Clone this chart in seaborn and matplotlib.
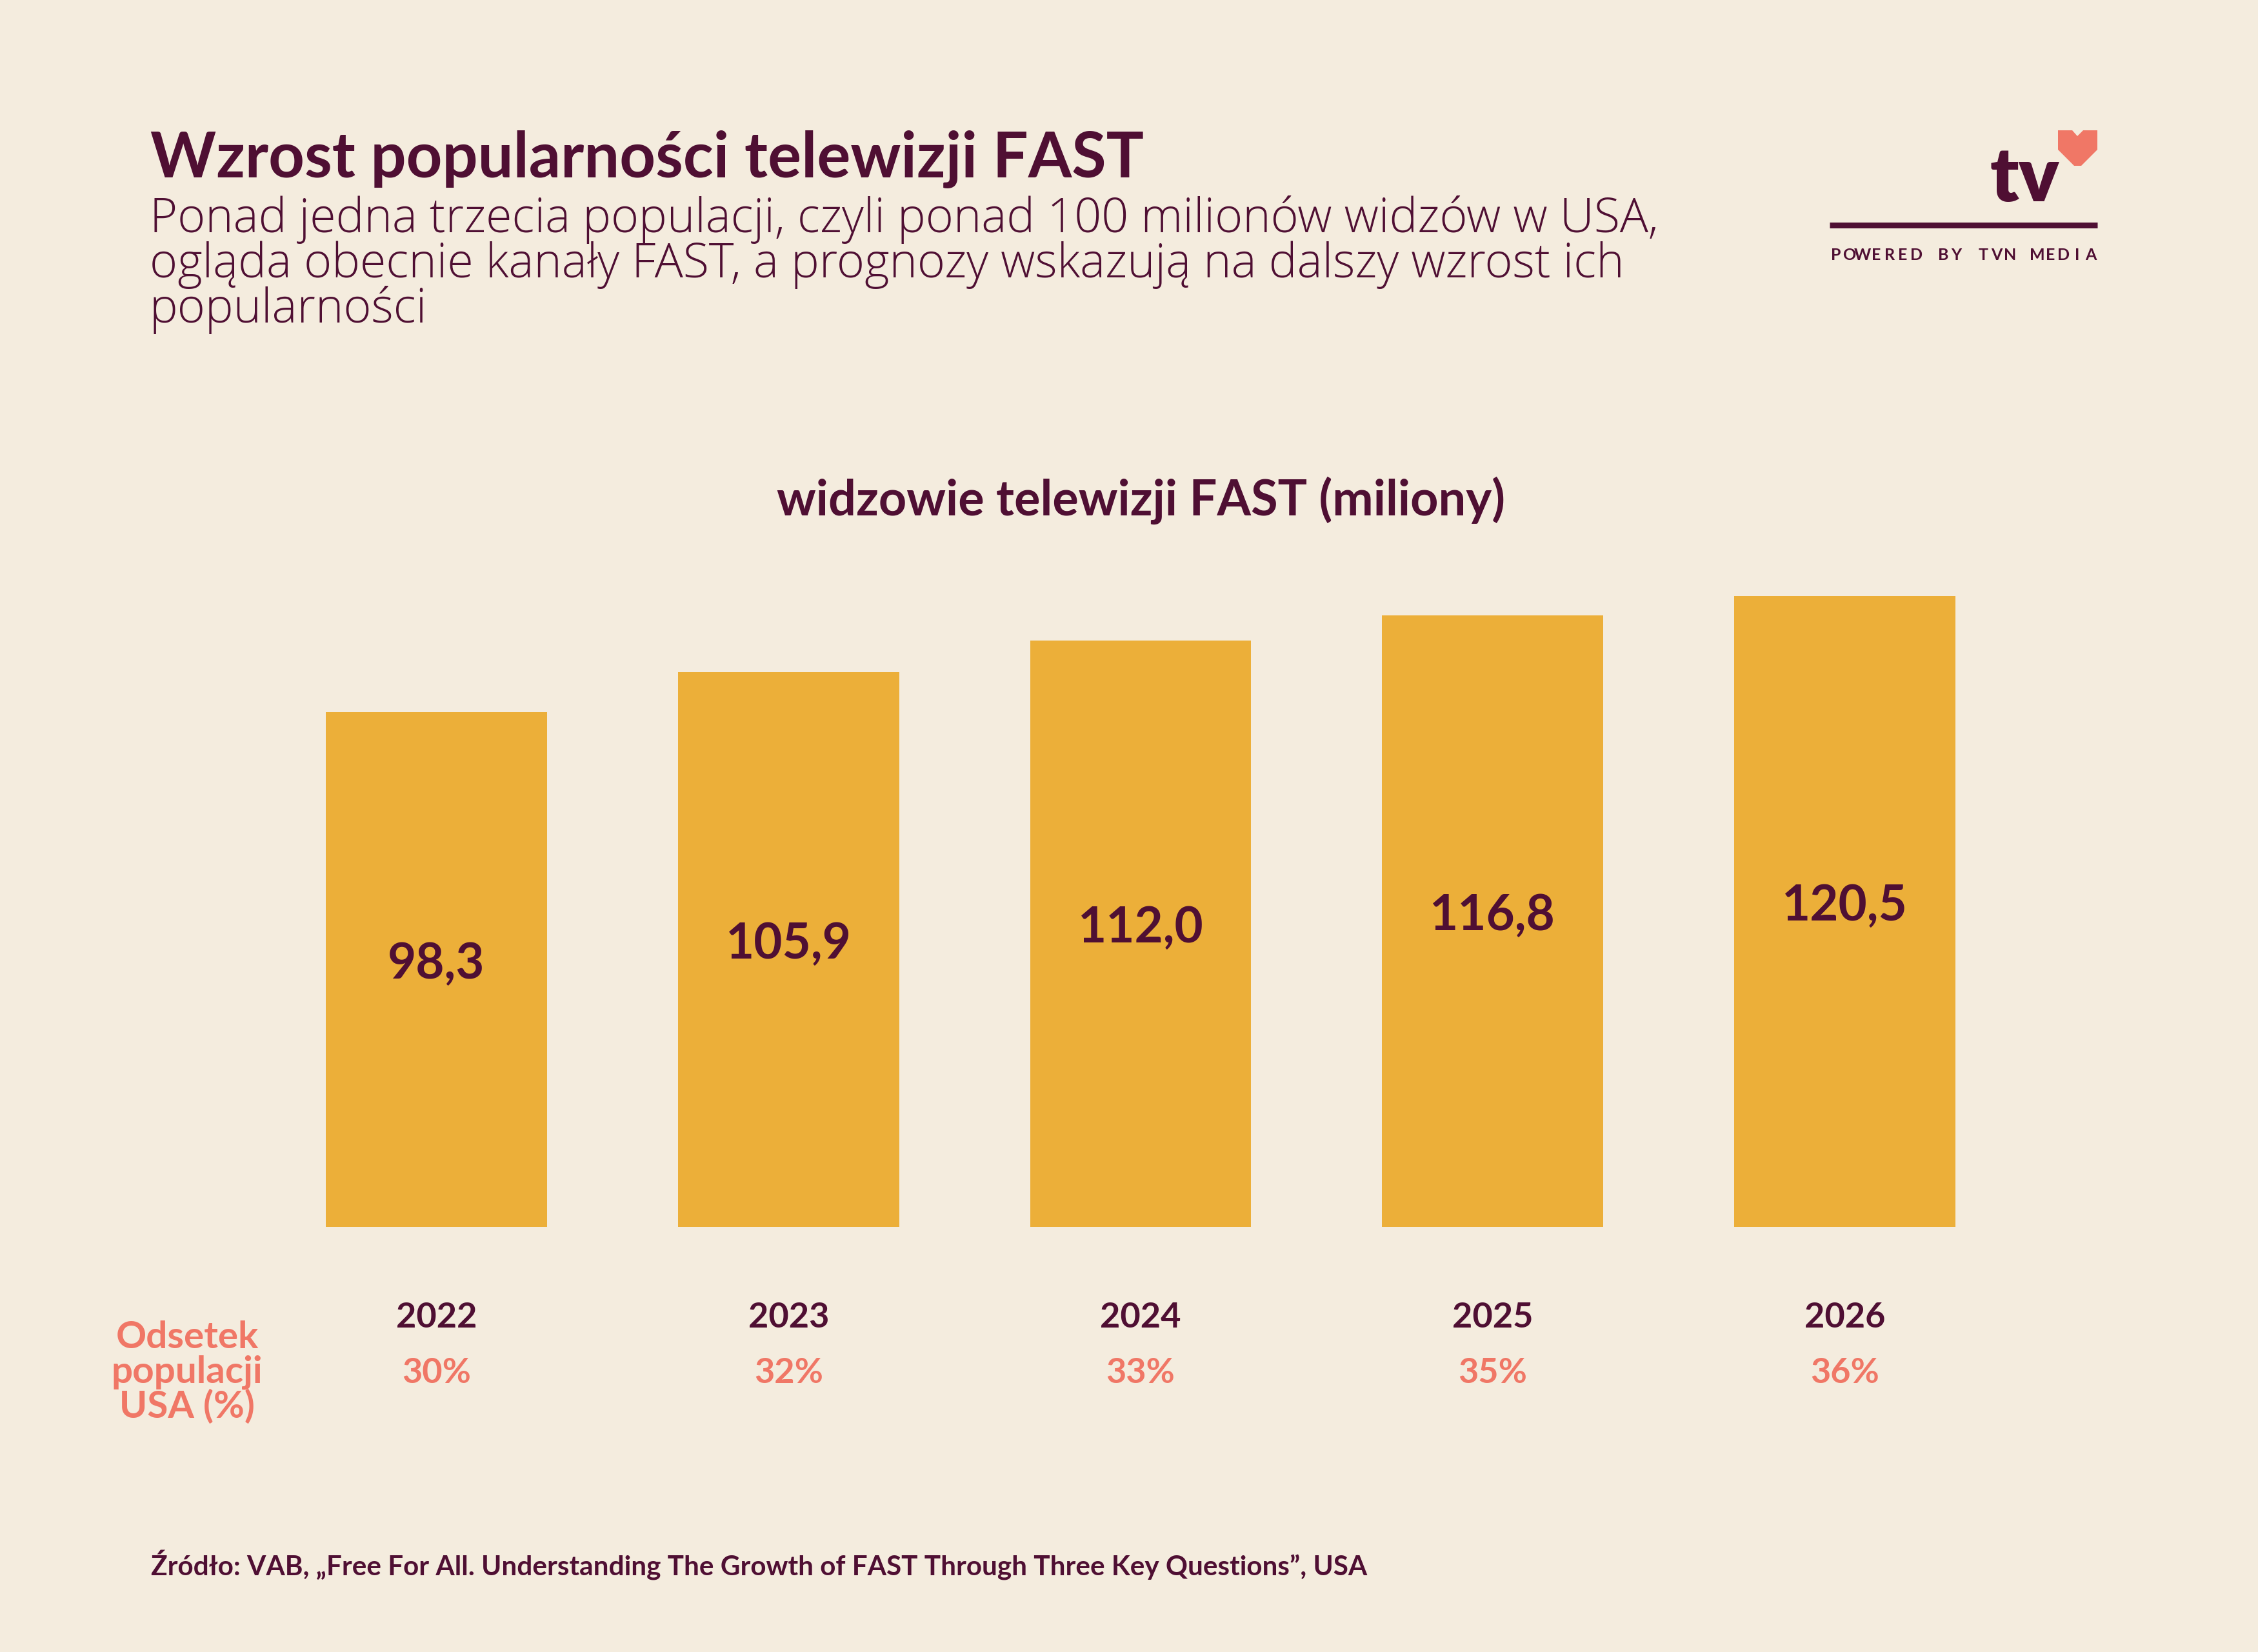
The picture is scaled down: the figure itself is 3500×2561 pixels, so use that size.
import matplotlib
matplotlib.use("Agg")
import matplotlib.pyplot as plt
import matplotlib.transforms as mtransforms
from matplotlib.patches import Polygon
import seaborn as sns

# ── data ──────────────────────────────────────────────
YEARS = ["2022", "2023", "2024", "2025", "2026"]
VIEWERS = [98.3, 105.9, 112.0, 116.8, 120.5]
SHARE = ["30%", "32%", "33%", "35%", "36%"]

TITLE = "Wzrost popularności telewizji FAST"
SUBTITLE = [
    "Ponad jedna trzecia populacji, czyli ponad 100 milionów widzów w USA,",
    "ogląda obecnie kanały FAST, a prognozy wskazują na dalszy wzrost ich",
    "popularności",
]
CHART_TITLE = "widzowie telewizji FAST (miliony)"
SHARE_LABEL = ["Odsetek", "populacji", "USA (%)"]
SOURCE = ("Źródło: VAB, „Free For All. Understanding The Growth of FAST "
          "Through Three Key Questions”, USA")

# ── style ─────────────────────────────────────────────
BG = "#F4ECDE"
BAR = "#ECAF39"
DARK = "#4F0F33"
CORAL = "#F07766"
FONT = ["Lato", "DejaVu Sans"]
LIGHT_FONT = ["Open Sans", "Lato", "DejaVu Sans"]

W, H = 3500, 2561

sns.set_theme(style="white")
plt.rcParams["font.family"] = FONT


def fx(px):
    return px / W


def fy(py):
    return 1 - py / H


fig = plt.figure(figsize=(W / 100, H / 100), dpi=100, facecolor=BG)
ax = fig.add_axes([0.1153, 0.2573, 0.7797, 0.3963])
ax.set_facecolor(BG)

sns.barplot(x=YEARS, y=VIEWERS, color=BAR, width=0.628, saturation=1,
            ax=ax, edgecolor="none")
ax.set_xlim(-0.5, len(YEARS) - 0.5)
ax.set_ylim(0, 125)
ax.set_axis_off()

# values inside bars
for i, v in enumerate(VIEWERS):
    ax.text(i, v / 2 + 1, f"{v:.1f}".replace(".", ","), ha="center",
            va="center", fontsize=55, fontweight="bold", color=DARK)

# year + share rows under the bars
blend = mtransforms.blended_transform_factory(ax.transData, fig.transFigure)
for i, (yr, sh) in enumerate(zip(YEARS, SHARE)):
    ax.text(i, fy(2058), yr, transform=blend, ha="center", va="baseline",
            fontsize=39, fontweight="bold", color=DARK)
    ax.text(i, fy(2144), sh, transform=blend, ha="center", va="baseline",
            fontsize=39, fontweight="bold", color=CORAL)

for j, line in enumerate(SHARE_LABEL):
    fig.text(fx(290), fy(2090 + 54 * j), line, ha="center", va="baseline",
             fontsize=42, fontweight="bold", color=CORAL)

# headings
fig.text(fx(233), fy(275), TITLE, ha="left", va="baseline",
         fontsize=70, fontweight="bold", color=DARK)
for j, line in enumerate(SUBTITLE):
    fig.text(fx(232), fy(360 + 70 * j), line, ha="left", va="baseline",
             fontsize=53, fontweight=300, family=LIGHT_FONT, color=DARK)
fig.text(fx(1768), fy(799), CHART_TITLE, ha="center", va="baseline",
         fontsize=54.5, fontweight="bold", color=DARK)

# source
fig.text(fx(234), fy(2443), SOURCE, ha="left", va="baseline",
         fontsize=30.4, fontweight="bold", color=DARK)

# logo
fig.text(fx(3192), fy(312), "tv", ha="right", va="baseline",
         fontsize=84, fontweight="heavy", color=DARK)
heart = [(3190, 202), (3212, 202), (3220, 211), (3229, 202), (3251, 202),
         (3251, 232), (3226, 257), (3215, 257), (3190, 232)]
fig.patches.append(Polygon([(fx(x), fy(y)) for x, y in heart], closed=True,
                           transform=fig.transFigure, facecolor=CORAL,
                           edgecolor="none"))
fig.add_artist(plt.Line2D([fx(2836), fx(3251)], [fy(348.5), fy(348.5)],
                          transform=fig.transFigure, color=DARK, lw=6.5,
                          solid_capstyle="butt"))
tag = "POWERED BY TVN MEDIA"
pitch = (3251 - 2835) / len(tag)
for k, ch in enumerate(tag):
    fig.text(fx(2835 + pitch * (k + 0.5)), fy(403), ch, ha="center",
             va="baseline", fontsize=18, fontweight="bold", color=DARK)

fig.savefig("out.png", dpi=100, facecolor=BG)
